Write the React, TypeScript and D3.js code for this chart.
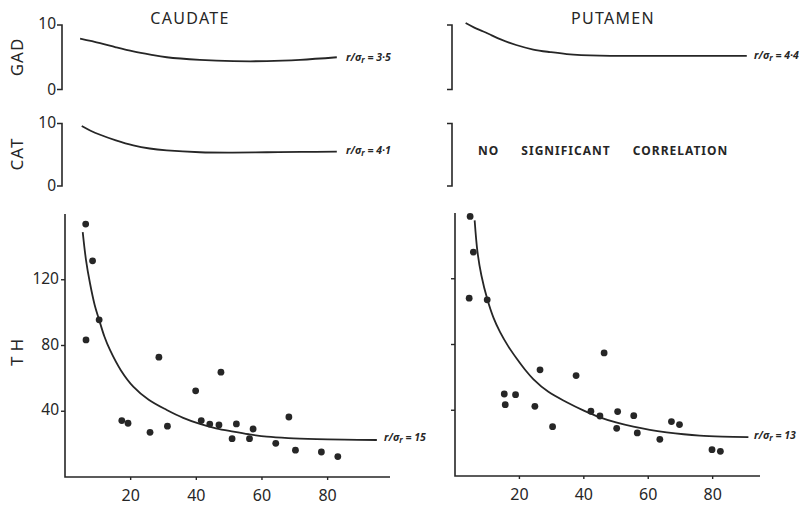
import React from "react";
import * as d3 from "d3";

// ---------- data ----------
const xTickValues = [20, 40, 60, 80];
const thTickValues = [40, 80, 120];
const topTickLabels = ["10", "0"];

// TH scatter points [age, TH]
const caudateTH: [number, number][] = [
  [6.3, 153.9], [8.4, 131.5], [10.4, 95.6], [6.4, 83.4], [28.6, 72.9],
  [17.3, 34.3], [19.2, 32.7], [25.9, 27.2], [31.2, 30.9], [39.8, 52.4],
  [47.5, 63.8], [41.5, 34.3], [44.1, 32.2], [46.9, 31.7], [52.2, 32.3],
  [50.9, 23.3], [56.2, 23.3], [57.3, 29.2], [64.2, 20.5], [68.2, 36.5],
  [70.2, 16.3], [78.1, 15.2], [83.1, 12.4],
];
const putamenTH: [number, number][] = [
  [4.7, 157.9], [5.7, 136.2], [4.4, 108.2], [10.0, 107.2], [15.3, 49.9],
  [15.6, 43.4], [18.8, 49.5], [24.8, 42.4], [26.4, 64.6], [30.3, 30.0],
  [37.6, 61.1], [46.3, 74.9], [42.2, 39.4], [45.0, 36.5], [50.5, 39.2],
  [50.2, 29.0], [55.5, 36.7], [56.6, 26.2], [63.6, 22.3], [67.2, 33.1],
  [69.7, 31.3], [79.8, 16.0], [82.4, 15.0],
];

// fitted curves
const caudateTHCurve: [number, number][] = [
  [5.4, 149], [6.4, 132], [7.6, 118], [9, 105], [10.4, 95.6], [12, 85.5], [13.7, 77.3],
  [17, 65], [20.8, 55], [25.5, 47], [31, 40.8], [36, 36], [41.1, 32.3], [46, 29.6],
  [51.3, 27.6], [56, 26], [61.5, 24.5], [68, 23.6], [76.7, 23], [85, 22.7], [95, 22.5],
];
const putamenTHCurve: [number, number][] = [
  [6.1, 155.5], [7, 136], [8.2, 122], [10, 107.8], [12, 96], [14, 87.5], [16.5, 79],
  [19.2, 71.3], [21.7, 64.8], [24.3, 59], [29, 51.2], [34.7, 44.9], [40, 39.8], [45, 35.7],
  [50, 32.6], [55.4, 30], [60.5, 28.1], [65.7, 26.6], [71, 25.4], [76, 24.6], [83, 24], [91.1, 23.6],
];
const caudateGADCurve: [number, number][] = [
  [4.6, 7.9], [10.7, 7.2], [15.5, 6.55], [20.8, 5.9], [26, 5.4], [31, 5.0], [41.1, 4.6],
  [51.3, 4.4], [61.5, 4.4], [71.6, 4.6], [82.8, 5.0],
];
const caudateCATCurve: [number, number][] = [
  [5.1, 9.6], [7.8, 8.85], [10.7, 8.2], [15.5, 7.3], [20.8, 6.5], [25.8, 6.0], [31, 5.7],
  [41.1, 5.4], [51, 5.35], [61.5, 5.4], [72, 5.45], [82.8, 5.5],
];
const putamenGADCurve: [number, number][] = [
  [3.3, 10.3], [6, 9.6], [8.8, 9.0], [11.4, 8.4], [14, 7.8], [19, 6.9], [24.3, 6.2],
  [29.5, 5.8], [34.7, 5.5], [45, 5.25], [55, 5.2], [65.7, 5.2], [78, 5.2], [90.6, 5.2],
];

const rLabels = { cGAD: "3·5", cCAT: "4·1", cTH: "15", pGAD: "4·4", pTH: "13" };

// ---------- layout ----------
const W = 811;
const H = 508;
const ink = "#262626";
const font = "'Noto Sans', 'Liberation Sans', sans-serif";

const xL = d3.scaleLinear().domain([0, 99]).range([65, 390]);
const xR = d3.scaleLinear().domain([0, 94.7]).range([455, 760]);
const yTHL = d3.scaleLinear().domain([0, 160]).range([477, 214]);
const yTHR = d3.scaleLinear().domain([0, 160]).range([476, 213]);
const yGAD = d3.scaleLinear().domain([0, 10]).range([89.5, 25]);
const yCAT = d3.scaleLinear().domain([0, 10]).range([186, 123.5]);

function curvePath(data: [number, number][], xs: any, ys: any) {
  return (
    d3
      .line<[number, number]>()
      .x((d) => xs(d[0]))
      .y((d) => ys(d[1]))
      .curve(d3.curveCatmullRom.alpha(0.5))(data) || ""
  );
}

function RLabel({ x, y, value }: { x: number; y: number; value: string }) {
  return (
    <text x={x} y={y} fontSize={10.5} fontStyle="italic" fontWeight="bold" fill={ink} fontFamily={font} dominantBaseline="middle">
      r/σ
      <tspan fontSize={8} dy={3}>r</tspan>
      <tspan dy={-3}> = {value}</tspan>
    </text>
  );
}

function Bracket({ x, ys, labels }: { x: number; ys: any; labels: boolean }) {
  const [d0, d1] = ys.domain();
  const top = ys(d1);
  const bot = ys(d0);
  return (
    <g>
      <path d={`M${x - 5},${top}H${x}V${bot}H${x - 5}`} fill="none" stroke={ink} strokeWidth={1.6} />
      {labels && (
        <>
          <text x={x - 6} y={top} textAnchor="end" dominantBaseline="middle" fontSize={15.5} fill={ink} fontFamily={font}>
            {topTickLabels[0]}
          </text>
          <text x={x - 6} y={bot + 1} textAnchor="end" dominantBaseline="middle" fontSize={15.5} fill={ink} fontFamily={font}>
            {topTickLabels[1]}
          </text>
        </>
      )}
    </g>
  );
}

function THAxes({ xs, ys, labels }: { xs: any; ys: any; labels: boolean }) {
  const x0 = xs.range()[0];
  const x1 = xs.range()[1];
  const y0 = ys.range()[0];
  const y1 = ys.range()[1];
  return (
    <g>
      <path d={`M${x0},${y1}V${y0}H${x1}`} fill="none" stroke={ink} strokeWidth={1.6} />
      {thTickValues.map((t) => (
        <g key={t}>
          <line x1={x0 - 4} x2={x0} y1={ys(t)} y2={ys(t)} stroke={ink} strokeWidth={1.4} />
          {labels && (
            <text x={x0 - 6} y={ys(t)} textAnchor="end" dominantBaseline="middle" fontSize={15.5} fill={ink} fontFamily={font}>
              {t}
            </text>
          )}
        </g>
      ))}
      {xTickValues.map((t) => (
        <g key={t}>
          <line x1={xs(t)} x2={xs(t)} y1={y0} y2={y0 + 3} stroke={ink} strokeWidth={1.4} />
          <text x={xs(t)} y={y0 + 24} textAnchor="middle" fontSize={16} fill={ink} fontFamily={font}>
            {t}
          </text>
        </g>
      ))}
    </g>
  );
}

export default function App() {
  return (
    <svg width={W} height={H} style={{ position: "absolute", left: 0, top: 0, background: "#fff" }}>
      {/* titles */}
      <text x={190} y={24} textAnchor="middle" fontSize={16} letterSpacing={1.3} fill={ink} fontFamily={font}>CAUDATE</text>
      <text x={613} y={24} textAnchor="middle" fontSize={16} letterSpacing={1.3} fill={ink} fontFamily={font}>PUTAMEN</text>

      {/* row labels */}
      <text transform="translate(23,57) rotate(-90)" textAnchor="middle" fontSize={17} letterSpacing={1} fill={ink} fontFamily={font}>GAD</text>
      <text transform="translate(23,154) rotate(-90)" textAnchor="middle" fontSize={17} letterSpacing={1} fill={ink} fontFamily={font}>CAT</text>
      <text transform="translate(23,350) rotate(-90)" textAnchor="middle" fontSize={17} letterSpacing={5} fill={ink} fontFamily={font}>TH</text>

      {/* GAD / CAT brackets */}
      <Bracket x={62} ys={yGAD} labels={true} />
      <Bracket x={62} ys={yCAT} labels={true} />
      <Bracket x={452} ys={yGAD} labels={false} />
      <Bracket x={452} ys={yCAT} labels={false} />

      {/* GAD / CAT curves */}
      <path d={curvePath(caudateGADCurve, xL, yGAD)} fill="none" stroke={ink} strokeWidth={1.8} />
      <path d={curvePath(caudateCATCurve, xL, yCAT)} fill="none" stroke={ink} strokeWidth={1.8} />
      <path d={curvePath(putamenGADCurve, xR, yGAD)} fill="none" stroke={ink} strokeWidth={1.8} />
      <RLabel x={346} y={58} value={rLabels.cGAD} />
      <RLabel x={346} y={151} value={rLabels.cCAT} />
      <RLabel x={754} y={56} value={rLabels.pGAD} />

      <text x={478} y={152} dominantBaseline="middle" fontSize={12} fontWeight="bold" fill={ink} fontFamily={font} style={{ wordSpacing: "18px" }} letterSpacing={1}>
        NO SIGNIFICANT CORRELATION
      </text>

      {/* TH panels */}
      <THAxes xs={xL} ys={yTHL} labels={true} />
      <THAxes xs={xR} ys={yTHR} labels={false} />
      <path d={curvePath(caudateTHCurve, xL, yTHL)} fill="none" stroke={ink} strokeWidth={1.8} />
      <path d={curvePath(putamenTHCurve, xR, yTHR)} fill="none" stroke={ink} strokeWidth={1.8} />
      {caudateTH.map((d, i) => (
        <circle key={"c" + i} cx={xL(d[0])} cy={yTHL(d[1])} r={3.4} fill={ink} />
      ))}
      {putamenTH.map((d, i) => (
        <circle key={"p" + i} cx={xR(d[0])} cy={yTHR(d[1])} r={3.4} fill={ink} />
      ))}
      <RLabel x={384} y={438} value={rLabels.cTH} />
      <RLabel x={754} y={436} value={rLabels.pTH} />
    </svg>
  );
}
